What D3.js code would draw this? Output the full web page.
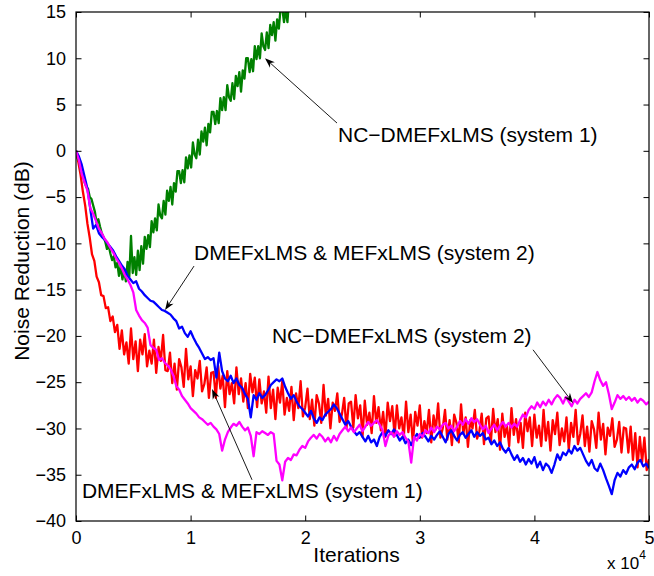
<!DOCTYPE html>
<html>
<head>
<meta charset='utf-8' />
<title>Noise Reduction vs Iterations</title>
<script src="https://d3js.org/d3.v7.min.js"></script>
<style>
body { margin: 0; padding: 0; background: #fff; }
svg text { font-family: "Liberation Sans", Arial, Helvetica, sans-serif; fill: #000; }
</style>
</head>
<body>
<div id='chart'></div>
<script>

// x axis ticks (iterations) and y ticks (dB)
var xTicks = [0, 10000, 20000, 30000, 40000, 50000];
var xTickLabels = ["0", "1", "2", "3", "4", "5"];
var yTicks = [15, 10, 5, 0, -5, -10, -15, -20, -25, -30, -35, -40];

// NC-DMEFxLMS (system 1), one value every 150 iterations
var greenStep = 150;
var greenVals = [0, -0.8, -1.2, -2.3, -2.6, -3.4, -3.9, -4.1, -5.0, -5.2,
  -5.9, -6.6, -7.8, -7.4, -8.2, -8.9, -9.3, -9.8, -10.6, -10.2,
  -11.1, -11.8, -11.4, -12.6, -12.1, -13.5, -12.4, -13.9, -12.8, -14.1,
  -12.0, -13.6, -9.2, -13.2, -11.5, -13.4, -10.8, -12.9, -10.3, -12.2,
  -9.3, -10.6, -9.1, -10.4, -7.6, -8.8, -7.3, -8.6, -5.8, -7.0,
  -7.3, -5.4, -6.9, -4.3, -5.4, -3.9, -5.8, -3.5, -4.4, -2.2,
  -2.2, -3.5, -2.1, -3.4, -0.7, -1.9, -0.5, -1.8, 0.9, -0.4,
  -0.8, 1.2, -0.4, 2.1, 1.0, 2.5, 0.6, 2.9, 2.0, 4.2,
  4.2, 2.9, 4.3, 3.0, 5.7, 4.4, 5.8, 4.4, 7.1, 5.8,
  5.4, 7.3, 5.6, 8.1, 7.0, 8.5, 6.4, 8.7, 7.8, 10.0,
  10.0, 8.5, 9.9, 8.6, 11.3, 9.9, 11.3, 10.0, 12.7, 11.3,
  10.9, 12.8, 11.1, 13.6, 12.5, 13.9, 11.9, 14.2, 13.2, 15.4,
  15.4, 13.9, 15.3, 13.9, 16.6, 16.8, 17.5];

// DMEFxLMS & MEFxLMS (system 2), one value every 250 iterations
var blueStep = 250;
var blueVals = [0, -0.6, -1.5, -2.8, -4.1, -6.3, -8.4, -8.0, -8.9, -9.3,
  -9.6, -10.0, -10.4, -10.8, -11.4, -11.9, -12.4, -12.8, -13.5, -13.9,
  -14.3, -14.1, -14.9, -15.2, -15.6, -15.9, -16.2, -16.3, -16.6, -16.9,
  -17.2, -17.3, -17.5, -17.7, -18.1, -18.4, -19.2, -19.0, -19.7, -20.1,
  -19.5, -20.2, -20.8, -21.3, -21.9, -22.5, -22.3, -22.6, -22.4, -24.5,
  -21.8, -23.8, -24.6, -24.9, -24.3, -25.1, -24.6, -25.3, -25.6, -26.3,
  -26.8, -28.8, -26.4, -26.9, -26.2, -26.7, -26.4, -25.9, -25.3, -25.0,
  -24.7, -24.9, -24.6, -25.5, -26.2, -26.8, -26.4, -27.1, -27.6, -27.9,
  -28.3, -28.7, -28.1, -28.9, -29.4, -28.8, -29.1, -28.5, -28.2, -27.9,
  -27.4, -27.8, -28.4, -29.0, -29.6, -29.2, -29.8, -30.3, -30.7, -30.4,
  -30.9, -31.4, -30.8, -31.5, -31.2, -31.9, -30.9, -30.4, -30.8, -30.2,
  -30.6, -30.1, -30.7, -31.3, -30.9, -31.6, -31.2, -31.8, -31.1, -30.6,
  -31.0, -30.5, -30.9, -31.4, -30.8, -31.2, -30.7, -30.3, -30.9, -31.5,
  -30.6, -30.2, -30.8, -31.3, -30.7, -30.4, -31.0, -30.6, -30.2, -30.9,
  -30.4, -30.8, -30.5, -31.2, -31.0, -31.7, -31.3, -31.9, -31.5, -32.2,
  -32.6, -32.1, -32.8, -33.4, -32.9, -33.6, -33.2, -33.9, -33.3, -33.8,
  -33.1, -34.2, -33.6, -34.5, -33.8, -34.1, -34.8, -33.9, -32.8, -33.4,
  -32.6, -32.9, -32.3, -32.7, -31.9, -32.4, -32.1, -32.8, -33.5, -34.0,
  -33.4, -34.3, -34.6, -33.8, -34.5, -35.4, -36.2, -37.1, -35.6, -34.8,
  -35.2, -34.5, -34.9, -34.2, -33.9, -34.4, -33.7, -33.4, -34.1, -33.8,
  -34.3];

// NC-DMEFxLMS (system 2), one value every 250 iterations
var magentaStep = 250;
var magentaVals = [0, -1.0, -2.5, -3.4, -4.3, -6.2, -6.8, -7.6, -8.4, -8.9,
  -9.5, -9.9, -10.5, -11.0, -11.6, -12.1, -12.7, -13.4, -13.9, -14.5,
  -15.3, -17.2, -17.8, -18.3, -18.6, -19.1, -21.0, -21.3, -21.5, -22.6,
  -22.4, -22.9, -23.2, -23.6, -24.3, -25.4, -25.8, -26.5, -26.9, -27.3,
  -27.8, -28.1, -28.4, -28.8, -29.0, -29.3, -29.6, -29.4, -29.8, -30.1,
  -30.6, -32.4, -31.2, -30.4, -29.9, -29.5, -29.7, -29.3, -29.8, -30.2,
  -29.9, -30.8, -33.0, -30.4, -30.6, -30.3, -30.5, -30.7, -30.4, -30.6,
  -33.5, -33.9, -35.6, -33.6, -33.2, -33.4, -32.8, -32.9, -32.3, -31.9,
  -32.1, -31.4, -31.0, -30.7, -31.1, -30.6, -30.9, -31.4, -31.0, -31.5,
  -30.8, -31.3, -30.6, -30.2, -29.8, -30.3, -29.9, -30.4, -30.0, -29.6,
  -30.3, -29.8, -29.3, -29.7, -29.4, -29.1, -29.6, -30.2, -31.9, -30.8,
  -30.4, -30.9, -30.3, -30.7, -30.4, -31.0, -31.4, -33.7, -30.9, -31.3,
  -30.6, -30.9, -30.2, -30.5, -29.9, -30.4, -29.8, -30.1, -29.6, -29.4,
  -30.0, -29.7, -30.3, -29.8, -29.2, -29.6, -29.0, -29.5, -28.9, -29.3,
  -29.0, -29.6, -30.1, -29.7, -30.5, -30.0, -29.6, -30.2, -29.7, -29.3,
  -29.8, -29.4, -29.9, -29.5, -29.8, -29.1, -28.5, -28.8, -28.0, -27.6,
  -27.9, -27.2, -27.7, -27.1, -27.5, -26.9, -27.4, -26.8, -26.4, -26.7,
  -27.3, -26.6, -27.1, -27.6, -26.9, -27.3, -26.8, -26.5, -26.2, -26.6,
  -26.1, -24.9, -23.9, -24.8, -25.4, -25.0, -26.3, -27.9, -27.2, -26.4,
  -26.8, -26.5, -26.9, -26.6, -27.0, -26.7, -27.2, -26.8, -27.0, -27.4,
  -27.1];

// DMEFxLMS & MEFxLMS (system 1), one value every 200 iterations
var redStep = 200;
var redVals = [0, -1.2, -2.6, -4.4, -5.9, -7.9, -9.4, -11.2, -11.9, -13.6,
  -14.2, -15.6, -15.7, -17.0, -16.9, -18.4, -17.9, -19.6, -18.8, -21.4,
  -19.4, -22.0, -20.7, -23.0, -19.2, -22.5, -20.6, -23.8, -20.4, -22.0,
  -19.8, -23.3, -21.6, -23.0, -20.4, -24.0, -21.2, -22.7, -19.9, -23.7,
  -23.8, -21.8, -25.1, -23.0, -25.8, -22.5, -23.4, -25.5, -21.4, -24.7,
  -23.3, -26.5, -23.7, -24.6, -22.7, -26.0, -25.2, -23.4, -26.7, -24.0,
  -23.9, -26.7, -23.2, -25.7, -24.3, -27.7, -23.8, -26.3, -25.1, -27.3,
  -23.4, -26.3, -24.6, -27.1, -25.1, -27.8, -24.1, -26.1, -24.5, -27.7,
  -24.7, -27.3, -26.0, -28.3, -24.4, -27.8, -25.8, -29.0, -25.6, -27.2,
  -24.9, -28.5, -26.7, -28.1, -25.5, -29.1, -26.2, -27.8, -24.9, -28.7,
  -27.7, -25.7, -29.0, -26.9, -29.7, -26.4, -27.3, -29.4, -25.3, -28.6,
  -26.8, -30.0, -27.2, -28.1, -26.2, -29.3, -28.5, -26.7, -30.0, -27.3,
  -27.1, -29.9, -26.4, -28.9, -27.5, -30.9, -27.0, -29.6, -28.3, -30.5,
  -26.5, -29.4, -27.7, -30.2, -28.2, -30.9, -27.2, -29.2, -27.6, -30.8,
  -27.5, -30.0, -28.8, -31.0, -27.1, -30.4, -28.5, -31.6, -28.2, -29.7,
  -27.5, -31.0, -29.2, -30.5, -28.0, -31.5, -28.6, -30.1, -27.3, -31.0,
  -30.0, -28.0, -31.2, -29.1, -31.8, -28.5, -29.4, -31.5, -27.4, -30.6,
  -28.8, -32.0, -29.1, -30.0, -28.0, -31.1, -30.3, -28.4, -31.7, -28.9,
  -28.7, -31.5, -27.9, -30.4, -29.0, -32.3, -28.4, -30.9, -29.7, -31.9,
  -27.8, -30.7, -29.0, -31.5, -29.4, -32.1, -28.3, -30.3, -28.8, -31.9,
  -28.5, -31.0, -29.7, -31.9, -28.0, -31.3, -29.3, -32.4, -29.1, -30.6,
  -28.3, -31.8, -30.0, -31.4, -28.8, -32.3, -29.4, -30.9, -28.0, -31.7,
  -30.6, -28.6, -31.9, -29.8, -32.5, -29.2, -30.1, -32.1, -28.3, -31.2,
  -29.5, -32.8, -29.9, -30.8, -28.9, -32.0, -31.2, -29.3, -32.6, -29.9,
  -30.0, -32.6, -29.8, -33.4, -30.5, -34.2, -30.9, -33.6, -31.0, -34.5,
  -33.3];

var series = [
  { name: "DMEFxLMS & MEFxLMS (system 1)", color: "#ff0000", step: redStep, vals: redVals },
  { name: "NC-DMEFxLMS (system 1)", color: "#008000", step: greenStep, vals: greenVals },
  { name: "DMEFxLMS & MEFxLMS (system 2)", color: "#0000ff", step: blueStep, vals: blueVals },
  { name: "NC-DMEFxLMS (system 2)", color: "#ff00ff", step: magentaStep, vals: magentaVals }
];

// annotation text anchor and arrow (from -> tip), in data units
var notes = [
  { text: "NC\u2212DMEFxLMS (system 1)", tx: 22860, ty: 0.95, fx: 22775, fy: 3.0, px: 16490, py: 10.0 },
  { text: "DMEFxLMS & MEFxLMS (system 2)", tx: 10300, ty: -11.8, fx: 10300, fy: -12.45, px: 7770, py: -17.2 },
  { text: "NC\u2212DMEFxLMS (system 2)", tx: 17100, ty: -20.75, fx: 39880, fy: -21.5, px: 43370, py: -27.25 },
  { text: "DMEFxLMS & MEFxLMS (system 1)", tx: 520, ty: -37.5, fx: 15360, fy: -35.55, px: 11870, py: -25.75 }
];

var W = 654, H = 576;
var margin = {top: 12, right: 5, bottom: 55, left: 76};
var width = W - margin.left - margin.right,
    height = H - margin.top - margin.bottom;

var svg = d3.select("#chart")
  .append("svg")
    .attr("width", W)
    .attr("height", H);

var x = d3.scaleLinear().domain([0, 50000]).range([margin.left, margin.left + width]);
var y = d3.scaleLinear().domain([-40, 15]).range([margin.top + height, margin.top]);

svg.append("defs").append("clipPath")
    .attr("id", "clip")
  .append("rect")
    .attr("x", margin.left)
    .attr("y", margin.top)
    .attr("width", width)
    .attr("height", height);

//////////
// LINES //
//////////

var line = d3.line()
  .x(function(d) { return x(d[0]); })
  .y(function(d) { return y(d[1]); });

var plot = svg.append("g").attr("clip-path", "url(#clip)");

series.forEach(function(s) {
  var pts = s.vals.map(function(v, i) { return [i * s.step, v]; });
  plot.append("path")
    .datum(pts)
    .attr("fill", "none")
    .attr("stroke", s.color)
    .attr("stroke-width", 2.3)
    .attr("stroke-linejoin", "round")
    .attr("d", line);
});

//////////
// AXES //
//////////

var tickLen = 5.5;
var fmtY = function(d) { return d < 0 ? "\u2212" + Math.abs(d) : String(d); };

svg.append("g")
  .attr("transform", "translate(0," + (margin.top + height) + ")")
  .call(d3.axisBottom(x).tickValues(xTicks).tickSizeInner(-tickLen).tickSizeOuter(0)
    .tickPadding(10).tickFormat(function(d, i) { return xTickLabels[i]; }));

svg.append("g")
  .attr("transform", "translate(0," + margin.top + ")")
  .call(d3.axisTop(x).tickValues(xTicks).tickSizeInner(-tickLen).tickSizeOuter(0).tickFormat(""));

svg.append("g")
  .attr("transform", "translate(" + margin.left + ",0)")
  .call(d3.axisLeft(y).tickValues(yTicks).tickSizeInner(-tickLen).tickSizeOuter(0)
    .tickPadding(10).tickFormat(fmtY));

svg.append("g")
  .attr("transform", "translate(" + (margin.left + width) + ",0)")
  .call(d3.axisRight(y).tickValues(yTicks).tickSizeInner(-tickLen).tickSizeOuter(0).tickFormat(""));

svg.selectAll(".domain").remove();
svg.selectAll(".tick line").attr("stroke", "#000").attr("stroke-width", 1);
svg.selectAll(".tick text").style("font-size", "18px").attr("fill", "#000");

// box
svg.append("rect")
  .attr("x", margin.left)
  .attr("y", margin.top)
  .attr("width", width)
  .attr("height", height)
  .attr("fill", "none")
  .attr("stroke", "#000")
  .attr("stroke-width", 1.2);

// axis titles
svg.append("text")
  .attr("text-anchor", "middle")
  .attr("x", margin.left + width / 2 - 6)
  .attr("y", 562)
  .style("font-size", "21px")
  .text("Iterations");

svg.append("text")
  .attr("text-anchor", "middle")
  .attr("transform", "translate(29,261) rotate(-90)")
  .style("font-size", "21px")
  .text("Noise Reduction (dB)");

var exp = svg.append("text")
  .attr("x", 607)
  .attr("y", 569)
  .style("font-size", "17px");
exp.append("tspan").text("x 10");
exp.append("tspan").attr("dy", -10).style("font-size", "12px").text("4");

//////////
// ANNOTATIONS //
//////////

function arrow(x1, y1, x2, y2) {
  var a = Math.atan2(y2 - y1, x2 - x1);
  var len = 10, hw = 3.6, notch = 7;
  var ca = Math.cos(a), sa = Math.sin(a);
  var bx = x2 - len * ca, by = y2 - len * sa;
  var nx = x2 - notch * ca, ny = y2 - notch * sa;
  svg.append("line")
    .attr("x1", x1).attr("y1", y1).attr("x2", nx).attr("y2", ny)
    .attr("stroke", "#000").attr("stroke-width", 0.9);
  svg.append("path")
    .attr("d", "M" + x2 + "," + y2 +
      "L" + (bx - hw * sa) + "," + (by + hw * ca) +
      "L" + nx + "," + ny +
      "L" + (bx + hw * sa) + "," + (by - hw * ca) + "Z")
    .attr("fill", "#000");
}

notes.forEach(function(n) {
  svg.append("text")
    .attr("x", x(n.tx))
    .attr("y", y(n.ty))
    .style("font-size", "21px")
    .text(n.text);
  arrow(x(n.fx), y(n.fy), x(n.px), y(n.py));
});

</script>
</body>
</html>
